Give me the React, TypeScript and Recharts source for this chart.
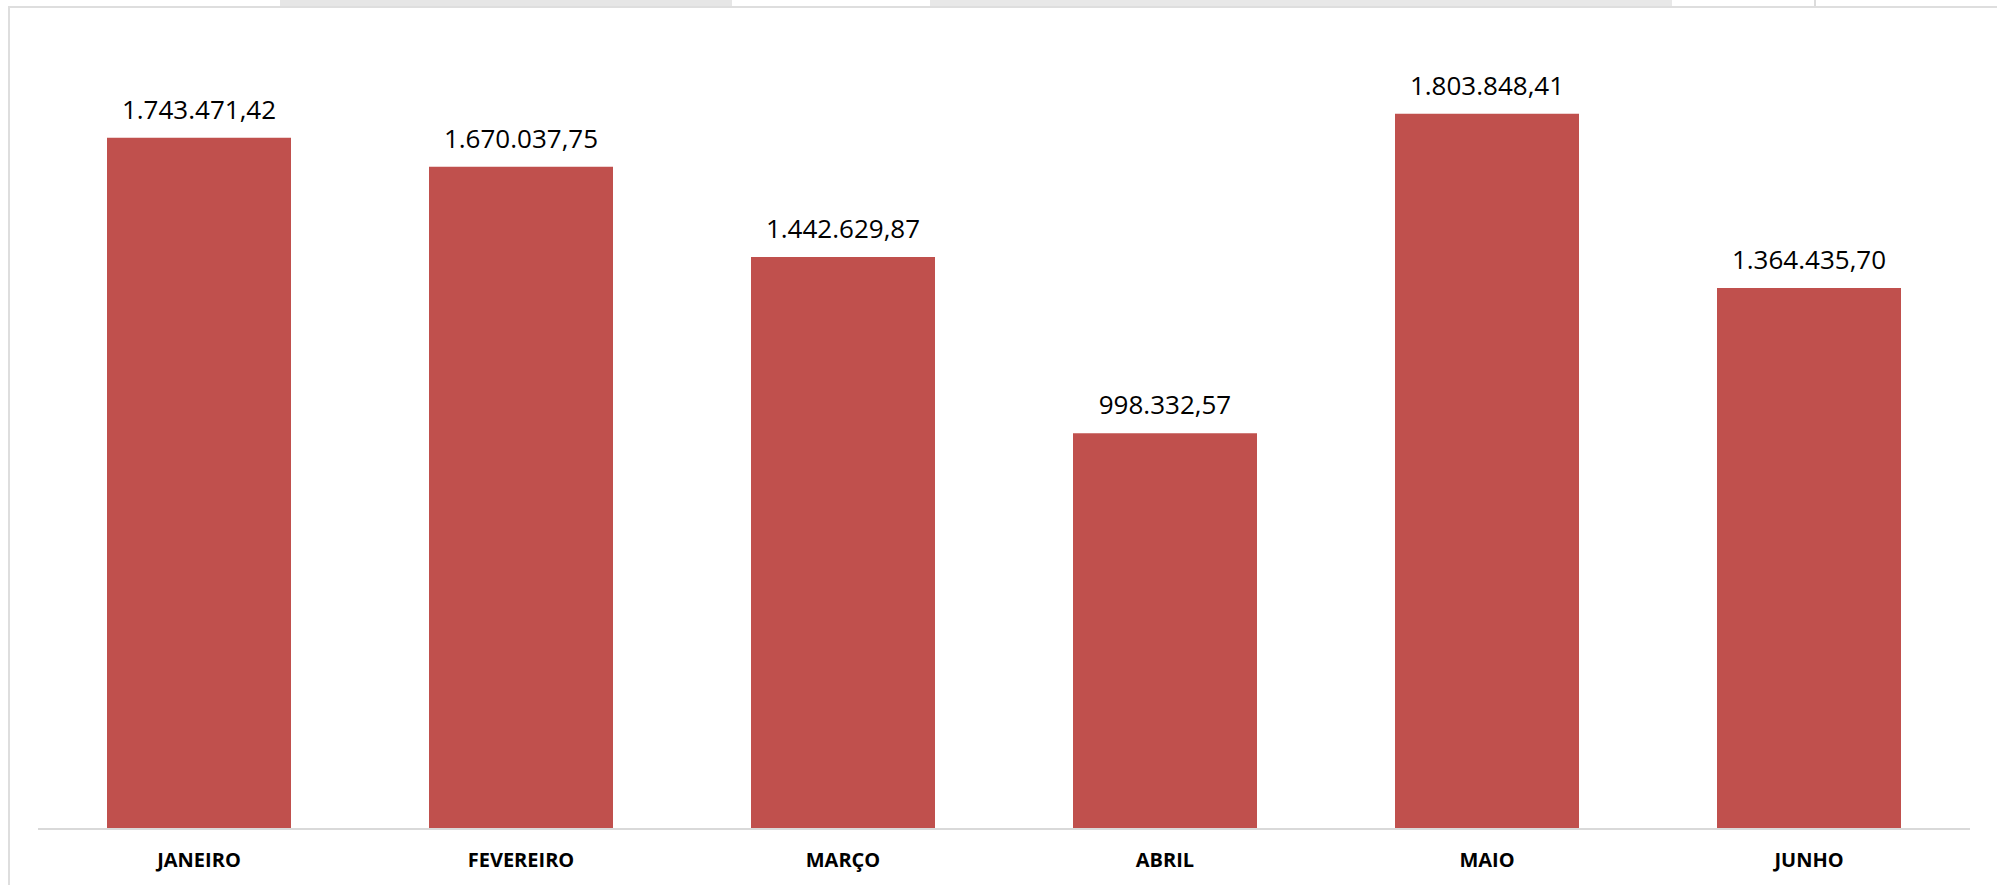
import React from "react";
import { BarChart, Bar, XAxis, YAxis, LabelList } from "recharts";

// meses e valores (R$)
const months = ["JANEIRO", "FEVEREIRO", "MARÇO", "ABRIL", "MAIO", "JUNHO"];
const totals = [1743471.42, 1670037.75, 1442629.87, 998332.57, 1803848.41, 1364435.7];

const data = months.map((m, i) => ({ month: m, total: totals[i] }));

// 1234567.8 -> "1.234.567,80"
const formatBR = (v: any) => {
  const n = Number(v);
  const [int, dec] = n.toFixed(2).split(".");
  const withDots = int.replace(/\B(?=(\d{3})+(?!\d))/g, ".");
  return withDots + "," + dec;
};

const App = () => {
  return (
    <div
      style={{
        position: "absolute",
        left: 0,
        top: 0,
        width: 1997,
        height: 885,
        background: "#fff",
        overflow: "hidden",
        fontFamily: "'Open Sans', sans-serif",
      }}
    >
      {/* pedaços cinza no topo */}
      <div style={{ position: "absolute", left: 280, top: 0, width: 452, height: 6, background: "#e6e6e6" }} />
      <div style={{ position: "absolute", left: 930, top: 0, width: 742, height: 6, background: "#e8e8e8" }} />
      <div style={{ position: "absolute", left: 1814, top: 0, width: 2, height: 6, background: "#dcdcdc" }} />

      {/* moldura */}
      <div
        style={{
          position: "absolute",
          left: 8,
          top: 6,
          width: 2000,
          height: 900,
          borderTop: "2px solid #dedede",
          borderLeft: "2px solid #dedede",
        }}
      />

      <div style={{ position: "absolute", left: 0, top: 0 }}>
        <BarChart
          width={1997}
          height={885}
          data={data}
          margin={{ top: 36, right: 27, left: 38, bottom: 0 }}
        >
          <XAxis
            dataKey="month"
            height={56}
            axisLine={{ stroke: "#d9d9d9", strokeWidth: 2 }}
            tickLine={false}
            tickMargin={18}
            tick={{ fill: "#000", fontSize: 20, fontWeight: 700, fontFamily: "'Open Sans', sans-serif" }}
          />
          <YAxis hide domain={[0, 2000000]} />
          <Bar dataKey="total" fill="#C0504D" barSize={184} isAnimationActive={false}>
            <LabelList
              dataKey="total"
              position="top"
              offset={19}
              formatter={formatBR}
              fill="#000"
              fontSize={26}
              fontFamily="'Open Sans', sans-serif"
            />
          </Bar>
        </BarChart>
      </div>
    </div>
  );
};

export default App;
